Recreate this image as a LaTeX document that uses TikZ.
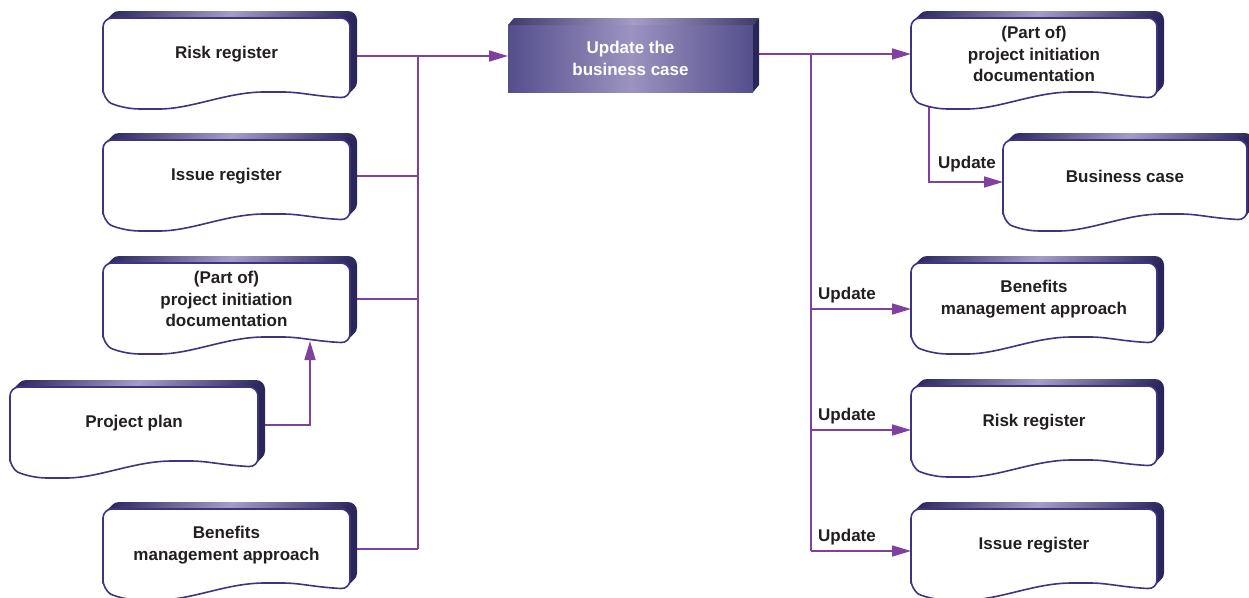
\documentclass[tikz,border=0pt]{standalone}
\usepackage{fontspec}
\setmainfont{Liberation Sans}
\usetikzlibrary{calc,arrows.meta}
\pgfdeclarelayer{bg}
\pgfsetlayers{bg,main}
\definecolor{linec}{RGB}{128,64,160}
\definecolor{bord}{RGB}{62,52,130}
\definecolor{deep}{RGB}{42,38,92}
\definecolor{pale}{RGB}{165,156,200}
\definecolor{txt}{RGB}{35,31,32}
\definecolor{ubL}{RGB}{84,78,140}
\definecolor{ubM}{RGB}{156,147,192}
\newcommand\docpath[4]{(#1,{#2+#4}) -- (#1,#2) -- ({#1+#3},#2) -- ({#1+#3},{#2+#4})
 .. controls ({#1+0.85*#3},{#2+#4-2}) and ({#1+0.8*#3},{#2+#4-6}) .. ({#1+0.69*#3},{#2+#4-6})
 .. controls ({#1+0.5*#3},{#2+#4-6}) and ({#1+0.36*#3},{#2+#4+11}) .. ({#1+0.19*#3},{#2+#4+11})
 .. controls ({#1+0.08*#3},{#2+#4+11}) and ({#1+0.03*#3},{#2+#4+5}) .. cycle}
\newcommand\docbox[6]{%
  \foreach \d in {7,6,5,4,3,2,1}{%
    \shade[left color=deep, right color=deep, middle color=pale, rounded corners=9pt, shift={(\d,-\d)}] \docpath{#2}{#3}{#4}{#5};
  }
  \filldraw[fill=white, draw=bord, line width=1.6pt, rounded corners=9pt] \docpath{#2}{#3}{#4}{#5};
  \node[docnode=#4] (#1) at ({#2+#4/2},#3) {#6};
}
\tikzset{
  docnode/.style={minimum width=#1pt, minimum height=72pt, inner sep=0pt, outer sep=0pt,
    anchor=north, align=center, text=txt, font=\bfseries\fontsize{17}{21.5}\selectfont},
  ubox/.style={minimum width=245pt, minimum height=67pt, inner sep=0pt, outer sep=0pt,
    left color=ubL, right color=ubL, middle color=ubM, text=white, align=center,
    font=\bfseries\fontsize{17}{21.5}\selectfont},
  link/.style={draw=linec, line width=1.6pt},
  arr/.style={link, -{Triangle[length=19pt,width=11pt]}},
  lbl/.style={anchor=base west, inner sep=0pt, text=txt, font=\bfseries\fontsize{17}{21.5}\selectfont}
}
\begin{document}
\begin{tikzpicture}[x=1pt,y=-1pt]
\useasboundingbox (0,0) rectangle (1249,597);
\clip (0,0) rectangle (1249,597);
% left column
\docbox{L1}{103}{18}{247}{80}{Risk register}
\docbox{L2}{103}{140}{247}{80}{Issue register}
\docbox{L3}{103}{263}{247}{80}{(Part of)\\project initiation\\documentation}
\docbox{L4}{10}{387}{248}{80}{Project plan}
\docbox{L5}{103}{509}{247}{80}{Benefits\\management approach}
% right column
\docbox{R1}{911}{18}{246}{80}{(Part of)\\project initiation\\documentation}
\docbox{R2}{1003}{140}{244}{80}{Business case}
\docbox{R3}{911}{263}{246}{80}{Benefits\\management approach}
\docbox{R4}{911}{386}{246}{80}{Risk register}
\docbox{R5}{911}{509}{246}{80}{Issue register}
% centre process
\node[ubox] (U) at (630.5,58.5) {Update the\\business case};
\shade[left color=ubL!75!black, right color=ubL!75!black, middle color=pale]
  (U.north west) -- ++(6,-7) -- ($(U.north east)+(6,-7)$) -- (U.north east) -- cycle;
\fill[deep] (U.north east) -- ++(6,-7) -- ($(U.south east)+(6,-7)$) -- (U.south east) -- cycle;
% labels
\node[lbl] (u1) at (938,168) {Update};
\node[lbl] (u2) at (818,299) {Update};
\node[lbl] (u3) at (818,420) {Update};
\node[lbl] (u4) at (818,541) {Update};
% bus coordinates
\coordinate (lbus) at (418,0);
\coordinate (rbus) at (811,0);
\coordinate (l1) at ($(L1.east)+(0,2)$);
\coordinate (l4) at ($(L4.east)+(0,2)$);
\coordinate (l5) at ($(L5.east)+(0,4)$);
\coordinate (b3) at (811,309);
\coordinate (b4) at (811,430);
\coordinate (b5) at (811,551);
\begin{pgfonlayer}{bg}
\fill[white] (0,0) rectangle (1249,597);
\draw[arr] (l1) -- (U.west |- l1);
\draw[link] (lbus |- l1) -- (lbus |- l5);
\draw[link] (L2.east) -- (lbus |- L2.east);
\draw[link] (L3.east) -- (lbus |- L3.east);
\draw[link] (l5) -- (lbus |- l5);
\draw[arr] (l4) -| ($(L3.south west)+(207,6)$);
\draw[arr] (U.east |- R1.west) -- (R1.west);
\draw[link] (rbus |- R1.west) -- (b5);
\draw[arr] (b3) -- (b3 -| R3.west);
\draw[arr] (b4) -- (b4 -| R4.west);
\draw[arr] (b5) -- (b5 -| R5.west);
\draw[arr] ($(R1.south west)+(18,0)$) |- ($(R2.west)+(0,6)$);
\end{pgfonlayer}
\end{tikzpicture}
\end{document}
